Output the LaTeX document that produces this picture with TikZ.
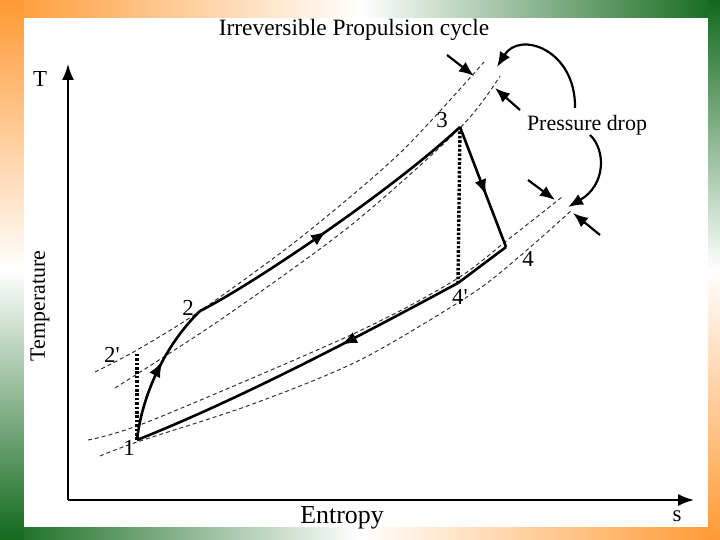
\documentclass[tikz,border=0pt]{standalone}
\usepackage{fontspec}
\setmainfont{Liberation Serif}
\usetikzlibrary{arrows.meta,decorations.markings}
\definecolor{saffron}{RGB}{255,153,51}
\definecolor{flaggreen}{RGB}{18,105,28}
\tikzset{
  axis/.style={line width=1.8bp,-{Latex[length=16bp,width=12bp]}},
  proc/.style={line width=2.6bp,line join=round},
  isobar/.style={line width=1bp,black!80,dash pattern=on 4bp off 3bp},
  isen/.style={line width=3.4bp,dash pattern=on 2.6bp off 1.8bp},
  midarrow/.style={postaction={decorate},decoration={markings,
    mark=at position #1 with {\arrow{Latex[length=16bp,width=12bp]}}}},
  droparrow/.style={line width=2.2bp,-{Latex[length=15bp,width=12bp]}},
  lab/.style={font=\fontsize{23}{27}\selectfont,inner sep=0pt}
}

\begin{document}
\begin{tikzpicture}[x=1bp,y=-1bp]
\useasboundingbox (0,0) rectangle (720,540);
% frame
\fill[white] (0,0) rectangle (720,540);
\shade[left color=saffron,right color=flaggreen,middle color=white] (0,0) rectangle (720,18);
\shade[left color=flaggreen,right color=saffron,middle color=white] (0,527) rectangle (720,540);
\shade[top color=saffron,bottom color=flaggreen,middle color=white] (0,0) rectangle (24,540);
\shade[top color=flaggreen,bottom color=saffron,middle color=white] (708,0) rectangle (720,540);
\fill[white] (24,18) rectangle (708,527);

\node[font=\fontsize{23.5}{28}\selectfont] (title) at (354,30) {Irreversible Propulsion cycle};

% axes
\coordinate (o) at (68,500);
\coordinate (ytip) at (68,64);
\coordinate (xtip) at (694,500);
\draw[axis] (o) -- (ytip);
\draw[axis] (o) -- (xtip);
\node[lab] (T) at (40,79) {T};
\node[lab] (s) at (677,516) {s};
\node[lab,font=\fontsize{26}{30}\selectfont] (entropy) at (342,518) {Entropy};
\node[lab,font=\fontsize{22}{26}\selectfont,rotate=90] (temp) at (40,306) {Temperature};

% state points
\coordinate (p1) at (137,440);
\coordinate (p2s) at (137,352);
\coordinate (p2) at (200,311);
\coordinate (p3) at (460,127);
\coordinate (p4s) at (458,283);
\coordinate (p4) at (506,247);

% isobars
\draw[isobar] plot[smooth] coordinates {(95,372) (137,350) (200,311) (300,238) (400,153) (484,62)};
\draw[isobar] plot[smooth] coordinates {(115,388) (220,320) (350,226) (460,128) (500,76)};
\draw[isobar] plot[smooth] coordinates {(88,440) (150,421) (353,334) (455,280) (510,238) (562,197)};
\draw[isobar] plot[smooth] coordinates {(100,456) (137,442) (250,405) (360,360) (470,295) (520,256) (572,210)};

% ideal paths
\draw[isen] (p1) -- (p2s);
\draw[isen] (p3) -- (p4s);

% cycle
\draw[proc,midarrow=0.57] (p1) .. controls (142,395) and (165,345) .. (p2);
\draw[proc,midarrow=0.47] (p2) .. controls (250,286) and (390,192) .. (p3);
\draw[proc,midarrow=0.57] (p3) -- (p4);
\draw[proc] (p4) -- (p4s);
\draw[proc,midarrow=0.37] (p4s) .. controls (380,325) and (250,395) .. (p1);

\node[lab] (l1) at (129,448) {1};
\node[lab] (l2s) at (112,355) {2\textquotesingle};
\node[lab] (l2) at (188,308) {2};
\node[lab] (l3) at (442,120) {3};
\node[lab] (l4) at (528,259) {4};
\node[lab] (l4s) at (460,297) {4\textquotesingle};

% pressure drop
\node[lab,font=\fontsize{22}{26}\selectfont] (drop) at (587,125) {Pressure drop};
\coordinate (a1) at (447,55);
\coordinate (b1) at (474,76);
\coordinate (a2) at (520,110);
\coordinate (b2) at (495,88);
\coordinate (a3) at (528,180);
\coordinate (b3) at (555,200);
\coordinate (a4) at (600,235);
\coordinate (b4) at (573,213);
\draw[droparrow] (a1) -- (b1);
\draw[droparrow] (a2) -- (b2);
\draw[droparrow] (a3) -- (b3);
\draw[droparrow] (a4) -- (b4);
\draw[droparrow] (575,108) .. controls (576,50) and (520,30) .. (497,67);
\draw[droparrow] (590,135) .. controls (606,150) and (606,185) .. (568,207);
\end{tikzpicture}
\end{document}
